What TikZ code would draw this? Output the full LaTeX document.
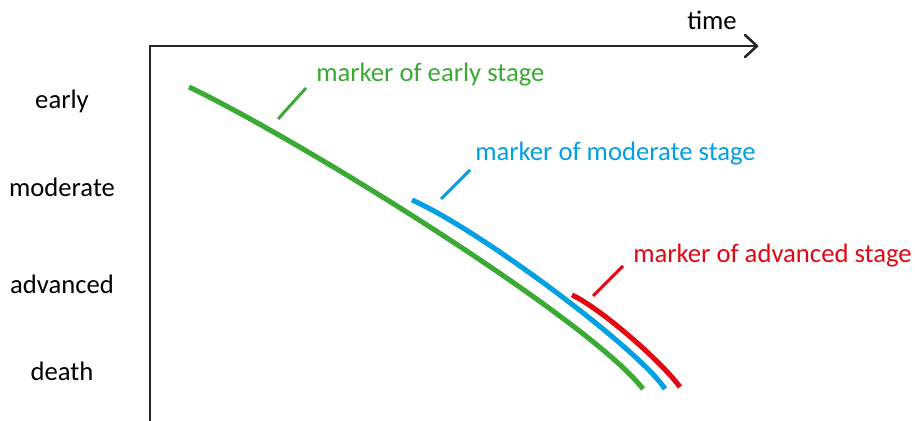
\documentclass[tikz,border=0pt]{standalone}
\usepackage{fontspec}
\setmainfont{Carlito}
\definecolor{stgreen}{HTML}{3AAA35}
\definecolor{stblue}{HTML}{00A0E3}
\definecolor{stred}{HTML}{E30613}
\begin{document}
\begin{tikzpicture}[x=0.75pt,y=-0.75pt,
  lbl/.style={font=\fontsize{20}{23}\selectfont, inner sep=0pt},
  axisline/.style={line width=1.9pt, black!85},
  course/.style={line width=3.8pt},
  leader/.style={line width=2.2pt}]
\useasboundingbox (0,0) rectangle (915,421);

% axes
\coordinate (origin) at (150,421);
\coordinate (corner) at (150,46);
\coordinate (tend) at (757,46);
\draw[axisline] (origin) -- (corner) -- (tend);
\draw[axisline, line cap=round, line join=round] (745,35) -- (tend) -- (745,57);
\node[lbl, anchor=base] (time) at (712,29) {time};

% stage labels on the vertical axis
\node[lbl] (early) at (62,101) {early};
\node[lbl] (moderate) at (62,187) {moderate};
\node[lbl] (advanced) at (62,284) {advanced};
\node[lbl] (death) at (62,371) {death};

% marker courses
\draw[course, stgreen] (189,87) .. controls (300,140) and (590,320) .. (643,389);
\draw[course, stblue] (412,200) .. controls (480,230) and (640,350) .. (665,389);
\draw[course, stred] (572,295) .. controls (600,308) and (660,360) .. (680,387);

% marker labels with leader ticks
\node[lbl, anchor=west, text=stgreen] (mearly) at (316,75) {marker of early stage};
\node[lbl, anchor=west, text=stblue] (mmod) at (475,154) {marker of moderate stage};
\node[lbl, anchor=west, text=stred] (madv) at (633,256) {marker of advanced stage};
\coordinate (ge) at (278,119); \coordinate (gs) at (306,88);
\coordinate (be) at (441,199); \coordinate (bs) at (470,170);
\coordinate (re) at (593,296); \coordinate (rs) at (623,266);
\draw[leader, stgreen] (ge) -- (gs);
\draw[leader, stblue] (be) -- (bs);
\draw[leader, stred] (re) -- (rs);
\end{tikzpicture}
\end{document}
